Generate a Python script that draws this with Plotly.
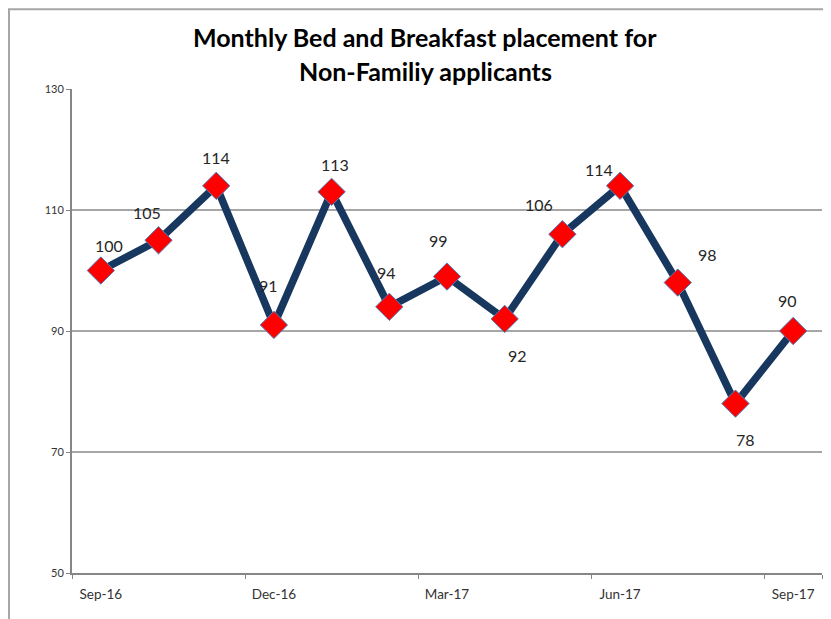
import plotly.graph_objects as go

months = ["Sep-16", "Oct-16", "Nov-16", "Dec-16", "Jan-17", "Feb-17", "Mar-17",
          "Apr-17", "May-17", "Jun-17", "Jul-17", "Aug-17", "Sep-17"]
placements = [100, 105, 114, 91, 113, 94, 99, 92, 106, 114, 98, 78, 90]
tick_labels = ["Sep-16", "Dec-16", "Mar-17", "Jun-17", "Sep-17"]
y_ticks = [50, 70, 90, 110, 130]

# label offsets (px) as placed in the original chart
label_dx = [8, -12, 0, -5, 3, -3, -9, 13, -23, -21, 30, 10, -6]
label_dy = [25, 28, 28, 39, 27, 34, 36, -37, 30, 16, 28, -36, 31]

FONT = "Lato, 'Open Sans', sans-serif"

fig = go.Figure()
fig.add_trace(go.Scatter(
    x=months, y=placements, mode="lines+markers",
    line=dict(color="#17375E", width=7.5),
    marker=dict(symbol="diamond", size=21, color="#FF0000",
                line=dict(color="#4A7EBB", width=1)),
    hoverinfo="x+y", showlegend=False,
))

for m, v, dx, dy in zip(months, placements, label_dx, label_dy):
    fig.add_annotation(x=m, y=v, text=str(v), showarrow=False,
                       xshift=dx, yshift=dy, xanchor="center", yanchor="middle",
                       font=dict(family=FONT, size=16, color="#262626"))

fig.add_annotation(xref="paper", yref="paper", x=0.4707, y=1.1074,
                   xanchor="center", yanchor="middle",
                   text="<b>Monthly Bed and Breakfast placement for</b>",
                   showarrow=False, font=dict(family=FONT, size=25, color="#000000"))
fig.add_annotation(xref="paper", yref="paper", x=0.4707, y=1.0372,
                   xanchor="center", yanchor="middle",
                   text="<b>Non-Familiy applicants</b>",
                   showarrow=False, font=dict(family=FONT, size=25, color="#000000"))

# outer chart frame
fig.add_shape(type="rect", xref="paper", yref="paper",
              x0=-0.084, x1=1.05, y0=-0.2, y1=1.165,
              line=dict(color="#A6A6A6", width=2), layer="below")

# the page body adds an 8px offset; the figure is sized to fit the window
fig.update_layout(
    width=823, height=611,
    margin=dict(l=64, r=9, t=81, b=46),
    paper_bgcolor="white", plot_bgcolor="white",
    xaxis=dict(
        type="category", categoryorder="array", categoryarray=months,
        tickmode="array", tickvals=tick_labels, ticktext=tick_labels,
        tickson="boundaries",
        showgrid=False, showline=True, linecolor="#868686", linewidth=2,
        ticks="outside", ticklen=4, tickcolor="#868686", tickwidth=1,
        ticklabelstandoff=8,
        tickfont=dict(family=FONT, size=13.5, color="#333333"),
        range=[-0.5, 12.5], zeroline=False,
    ),
    yaxis=dict(
        range=[50, 130], tickmode="array", tickvals=y_ticks,
        showgrid=True, gridcolor="#A6A6A6", gridwidth=1.5,
        showline=True, linecolor="#868686", linewidth=2,
        ticks="outside", ticklen=4, tickcolor="#868686", tickwidth=1,
        tickfont=dict(family=FONT, size=11, color="#333333"),
        zeroline=False,
    ),
)

fig.write_html("out.html")
